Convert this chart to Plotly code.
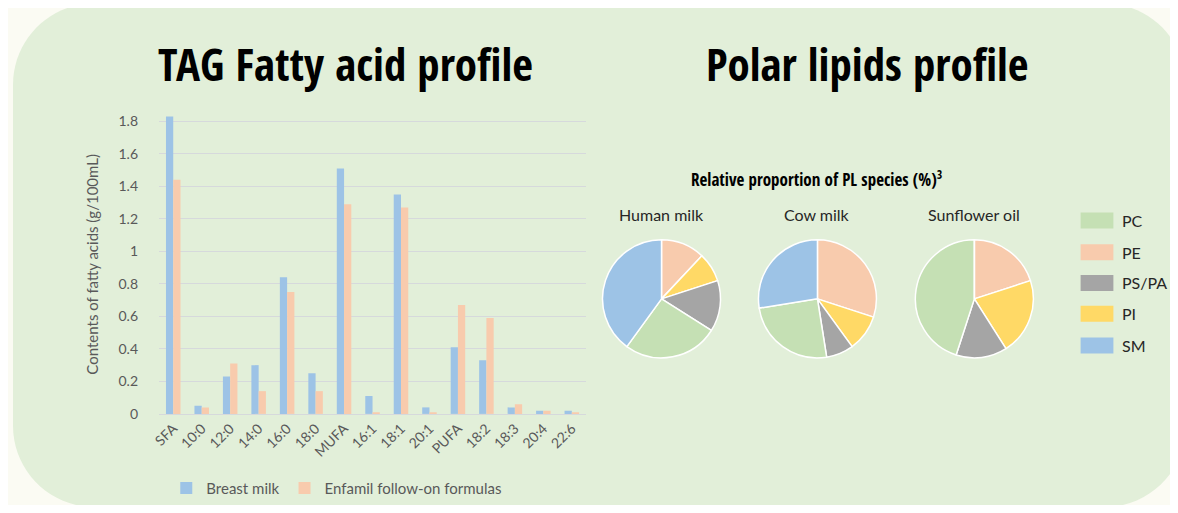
import plotly.graph_objects as go

# ---- data ----
fatty_acids = ["SFA", "10:0", "12:0", "14:0", "16:0", "18:0", "MUFA", "16:1",
               "18:1", "20:1", "PUFA", "18:2", "18:3", "20:4", "22:6"]
breast_milk = [1.83, 0.05, 0.23, 0.30, 0.84, 0.25, 1.51, 0.11,
               1.35, 0.04, 0.41, 0.33, 0.04, 0.02, 0.02]
enfamil = [1.44, 0.04, 0.31, 0.14, 0.75, 0.14, 1.29, 0.01,
           1.27, 0.01, 0.67, 0.59, 0.06, 0.02, 0.01]
y_ticks = [0, 0.2, 0.4, 0.6, 0.8, 1.0, 1.2, 1.4, 1.6, 1.8]
y_tick_text = ["0", "0.2", "0.4", "0.6", "0.8", "1", "1.2", "1.4", "1.6", "1.8"]

pl_species = ["PC", "PE", "PS/PA", "PI", "SM"]          # legend order
slice_order = ["PE", "PI", "PS/PA", "PC", "SM"]         # clockwise from 12 o'clock
human_milk = [12, 8, 14, 26, 40]
cow_milk = [30, 10, 7.5, 25, 27.5]
sunflower_oil = [20, 21, 14, 45, 0]
pie_names = ["Human milk", "Cow milk", "Sunflower oil"]
pie_values = [human_milk, cow_milk, sunflower_oil]

# ---- styling ----
# page body keeps its 8px margin; positions below are screen pixels,
# mapped to figure paper coords with a small measured correction
OFF = 8
W, H = 1178 - 2 * OFF, 513 - 2 * OFF
X0, Y0, SY = 10, 10.7, 0.976
BG = "#fbfbf3"
PANEL = "#e2efd9"
GRID = "#d6d9dc"
TXT = "#595959"
species_colors = {"PC": "#c5e0b4", "PE": "#f8cbad", "PS/PA": "#a5a5a5",
                  "PI": "#ffd966", "SM": "#9dc3e6"}
COND = "Open Sans Condensed"
BODY = "Lato"


def px(x):
    return (x - X0) / W


def py(y):
    return 1 - ((y - Y0) / SY) / H


def rounded_rect(x0, y0, x1, y1, r):
    k = 0.5523 * r
    pts = [
        f"M{px(x0 + r)},{py(y0)}",
        f"L{px(x1 - r)},{py(y0)}",
        f"C{px(x1 - r + k)},{py(y0)} {px(x1)},{py(y0 + r - k)} {px(x1)},{py(y0 + r)}",
        f"L{px(x1)},{py(y1 - r)}",
        f"C{px(x1)},{py(y1 - r + k)} {px(x1 - r + k)},{py(y1)} {px(x1 - r)},{py(y1)}",
        f"L{px(x0 + r)},{py(y1)}",
        f"C{px(x0 + r - k)},{py(y1)} {px(x0)},{py(y1 - r + k)} {px(x0)},{py(y1 - r)}",
        f"L{px(x0)},{py(y0 + r)}",
        f"C{px(x0)},{py(y0 + r - k)} {px(x0 + r - k)},{py(y0)} {px(x0 + r)},{py(y0)}",
        "Z",
    ]
    return " ".join(pts)


fig = go.Figure()

fig.add_trace(go.Bar(x=fatty_acids, y=breast_milk, name="Breast milk",
                     marker=dict(color="#9dc3e6", line=dict(width=0))))
fig.add_trace(go.Bar(x=fatty_acids, y=enfamil, name="Enfamil follow-on formulas",
                     marker=dict(color="#f8cbad", line=dict(width=0))))

# pies
pie_centers = [660, 817, 975]
pie_cy, pie_r = 301, 59.5
for name, vals, cx in zip(pie_names, pie_values, pie_centers):
    fig.add_trace(go.Pie(
        labels=slice_order, values=vals, name=name, sort=False,
        direction="clockwise", rotation=0, textinfo="none", showlegend=False,
        marker=dict(colors=[species_colors[s] for s in slice_order],
                    line=dict(color="white", width=1.5)),
        domain=dict(x=[px(cx - pie_r), px(cx + pie_r)],
                    y=[py(pie_cy + pie_r), py(pie_cy - pie_r)]),
    ))

shapes = [dict(type="path", xref="paper", yref="paper", layer="below",
               path=rounded_rect(7, 3, 1188, 511, 82),
               fillcolor=PANEL, line=dict(width=0))]

annotations = [
    dict(text="<b>TAG Fatty acid profile</b>", x=px(342), y=py(64),
         font=dict(family=COND, size=45, color="#000000")),
    dict(text="<b>Polar lipids profile</b>", x=px(867), y=py(64),
         font=dict(family=COND, size=45, color="#000000")),
    dict(text="<b>Relative proportion of PL species (%)<sup>3</sup></b>",
         x=px(816), y=py(180), font=dict(family=COND, size=17, color="#000000")),
]
for name, cx in zip(pie_names, pie_centers):
    annotations.append(dict(text=name, x=px(cx), y=py(216),
                            font=dict(family=BODY, size=16, color="#262626")))

# species legend on the right
leg_y = [222, 254, 285, 316, 348]
for sp, ly in zip(pl_species, leg_y):
    shapes.append(dict(type="rect", xref="paper", yref="paper",
                       x0=px(1082), x1=px(1115), y0=py(ly + 8), y1=py(ly - 8),
                       fillcolor=species_colors[sp], line=dict(width=0)))
    annotations.append(dict(text=sp, x=px(1122), y=py(ly), xanchor="left",
                            font=dict(family=BODY, size=16, color="#262626")))

for a in annotations:
    a.setdefault("xanchor", "center")
    a.setdefault("yanchor", "middle")
    a.setdefault("xref", "paper")
    a.setdefault("yref", "paper")
    a.setdefault("showarrow", False)

fig.update_layout(
    width=W, height=H,
    margin=dict(l=0, r=0, t=0, b=0),
    paper_bgcolor=BG, plot_bgcolor="rgba(0,0,0,0)",
    barmode="group", bargap=0.49, bargroupgap=0,
    font=dict(family=BODY, size=14, color=TXT),
    shapes=shapes, annotations=annotations,
    legend=dict(orientation="h", x=px(333), xanchor="center", y=py(492),
                yanchor="middle", font=dict(family=BODY, size=15, color=TXT),
                bgcolor="rgba(0,0,0,0)", itemwidth=30),
    xaxis=dict(domain=[px(154), px(584)], tickangle=-45, showgrid=False,
               showline=True, linecolor=GRID, linewidth=1, ticks="",
               tickfont=dict(family=BODY, size=14, color=TXT)),
    yaxis=dict(domain=[py(417), py(115.4)], range=[0, 1.84],
               tickvals=y_ticks, ticktext=y_tick_text, showgrid=True,
               gridcolor=GRID, gridwidth=1, zeroline=False, ticklabelstandoff=20,
               tickfont=dict(family=BODY, size=14, color=TXT),
               title=dict(text="Contents of fatty acids (g/100mL)", standoff=16,
                          font=dict(family=BODY, size=15, color=TXT))),
)

fig.write_html("out.html")
